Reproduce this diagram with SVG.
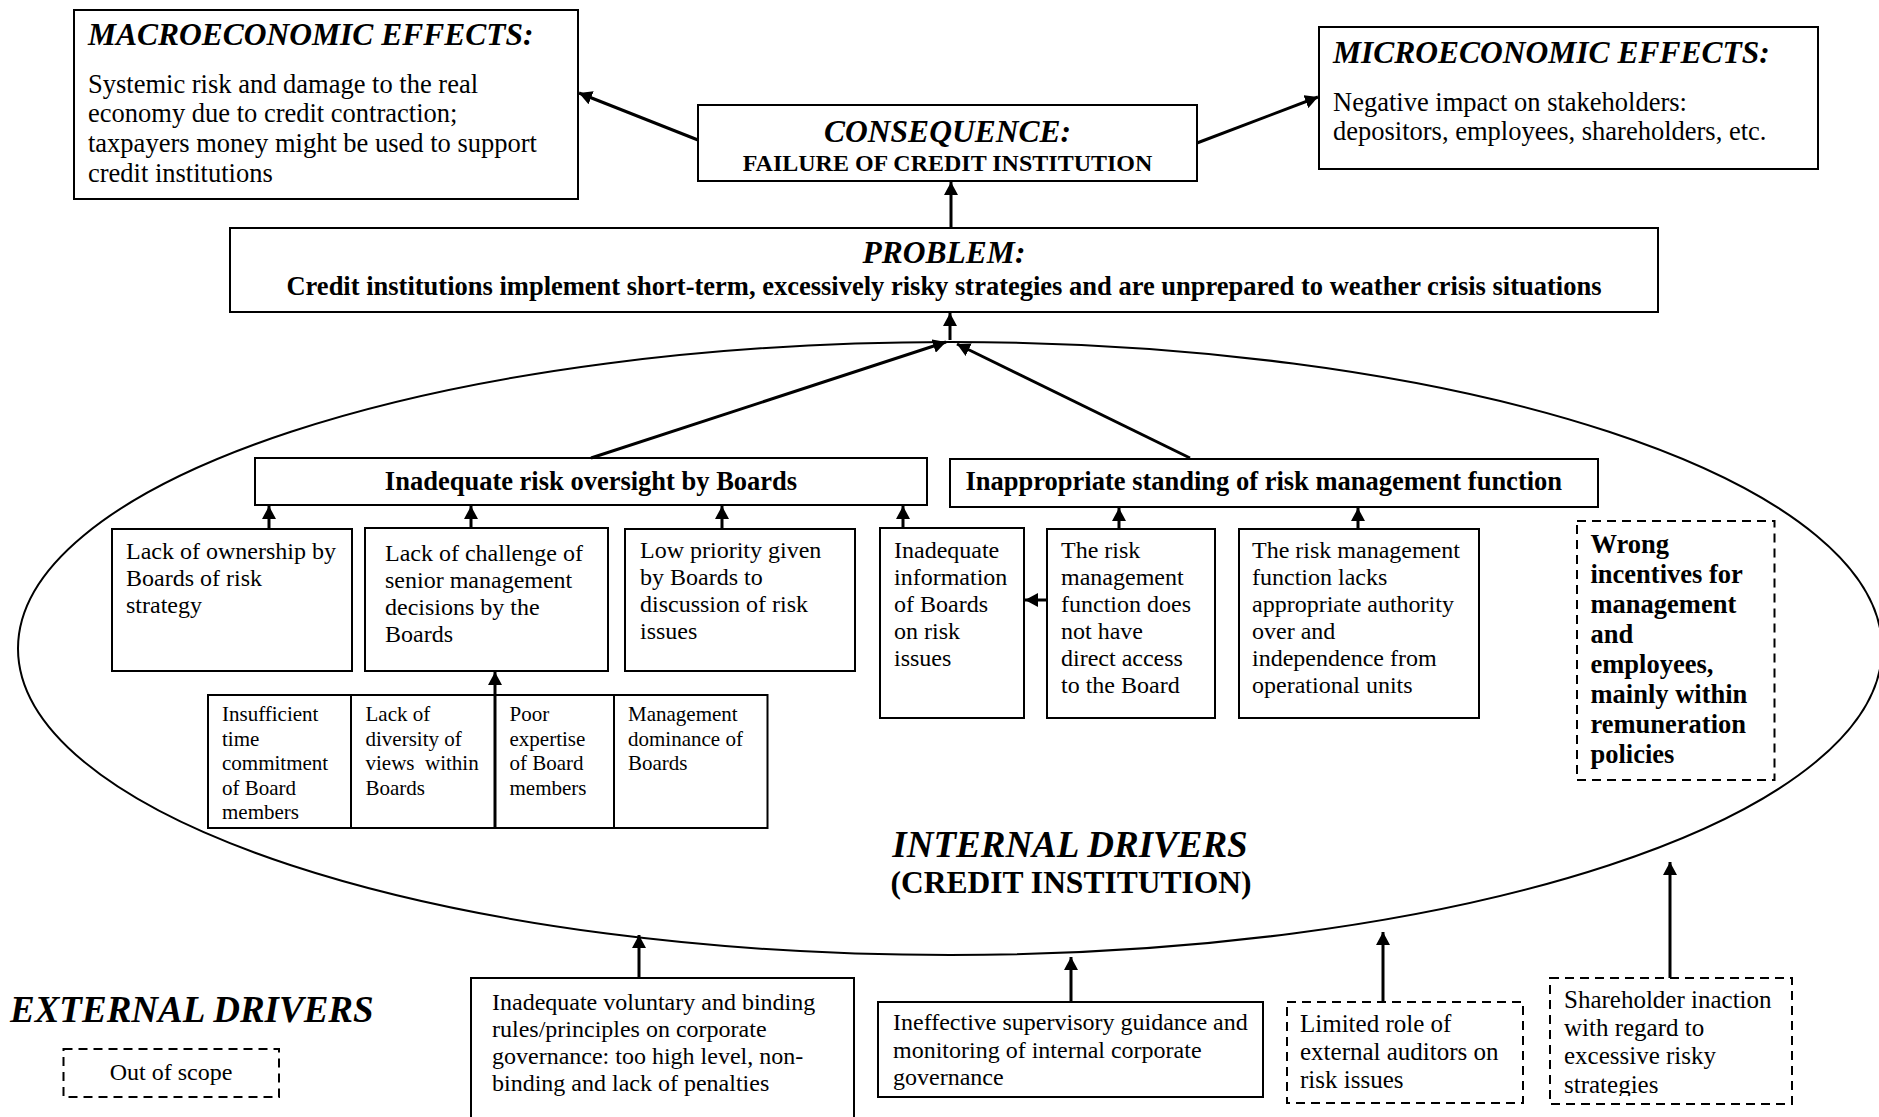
<svg xmlns="http://www.w3.org/2000/svg" width="1879" height="1117" viewBox="0 0 1879 1117">
<style>
text{font-family:"Liberation Serif","Times New Roman",serif;fill:#000}
.box{fill:#fff;stroke:#000;stroke-width:2}
.dash{fill:#fff;stroke:#000;stroke-width:2;stroke-dasharray:9,6}
.ti{font-weight:bold;font-style:italic;font-size:31.5px}
.big{font-weight:bold;font-style:italic;font-size:37px}
.b265{font-weight:bold;font-size:26.5px}
.r265{font-size:26.5px}
.r24{font-size:24px}
.r25{font-size:25px}
.r21{font-size:21px}
.mid{text-anchor:middle}
.arr{fill:none;stroke:#000;stroke-width:3;marker-end:url(#ah)}
</style>
<defs>
<marker id="ah" markerUnits="userSpaceOnUse" markerWidth="14" markerHeight="14" refX="13" refY="7" orient="auto">
<path d="M0,0 L13,7 L0,14 z" fill="#000"/>
</marker>
<clipPath id="shclip"><rect x="1550" y="978" width="242" height="118"/></clipPath>
</defs>
<rect width="1879" height="1117" fill="#fff"/>

<g id="internal-ellipse">
<ellipse cx="950" cy="648.5" rx="932" ry="306.5" fill="none" stroke="#000" stroke-width="2"/>
</g>

<g id="macro">
<rect class="box" x="74" y="10" width="504" height="189"/>
<text class="ti" x="88" y="45">MACROECONOMIC EFFECTS:</text>
<text class="r265" x="88" y="93">Systemic risk and damage to the real</text>
<text class="r265" x="88" y="122">economy due to credit contraction;</text>
<text class="r265" x="88" y="152">taxpayers money might be used to support</text>
<text class="r265" x="88" y="182">credit institutions</text>
</g>

<g id="micro">
<rect class="box" x="1319" y="27" width="499" height="142"/>
<text class="ti" x="1333" y="63">MICROECONOMIC EFFECTS:</text>
<text class="r265" x="1333" y="111">Negative impact on stakeholders:</text>
<text class="r265" x="1333" y="140">depositors, employees, shareholders, etc.</text>
</g>

<g id="consequence">
<rect class="box" x="698" y="105" width="499" height="76"/>
<text class="ti mid" x="947.5" y="142">CONSEQUENCE:</text>
<text class="mid" x="947.5" y="171" font-weight="bold" font-size="24">FAILURE OF CREDIT INSTITUTION</text>
</g>

<g id="problem">
<rect class="box" x="230" y="228" width="1428" height="84"/>
<text class="ti mid" x="944" y="263">PROBLEM:</text>
<text class="b265 mid" x="944" y="295">Credit institutions implement short-term, excessively risky strategies and are unprepared to weather crisis situations</text>
</g>

<g id="oversight">
<rect class="box" x="255" y="458" width="672" height="47"/>
<text class="b265 mid" x="591" y="490">Inadequate risk oversight by Boards</text>
</g>

<g id="standing">
<rect class="box" x="950" y="459" width="648" height="48"/>
<text class="b265" x="965.5" y="490">Inappropriate standing of risk management function</text>
</g>

<g id="ownership">
<rect class="box" x="112" y="529" width="240" height="142"/>
<text class="r24" x="126" y="559">Lack of ownership by</text>
<text class="r24" x="126" y="586">Boards of risk</text>
<text class="r24" x="126" y="613">strategy</text>
</g>

<g id="challenge">
<rect class="box" x="365" y="528" width="243" height="143"/>
<text class="r24" x="385" y="561">Lack of challenge of</text>
<text class="r24" x="385" y="588">senior management</text>
<text class="r24" x="385" y="615">decisions by the</text>
<text class="r24" x="385" y="642">Boards</text>
</g>

<g id="priority">
<rect class="box" x="625" y="529" width="230" height="142"/>
<text class="r24" x="640" y="558">Low priority given</text>
<text class="r24" x="640" y="585">by Boards to</text>
<text class="r24" x="640" y="612">discussion of risk</text>
<text class="r24" x="640" y="639">issues</text>
</g>

<g id="information">
<rect class="box" x="880" y="528" width="144" height="190"/>
<text class="r24" x="894" y="558">Inadequate</text>
<text class="r24" x="894" y="585">information</text>
<text class="r24" x="894" y="612">of Boards</text>
<text class="r24" x="894" y="639">on risk</text>
<text class="r24" x="894" y="666">issues</text>
</g>

<g id="access">
<rect class="box" x="1047" y="529" width="168" height="189"/>
<text class="r24" x="1061" y="558">The risk</text>
<text class="r24" x="1061" y="585">management</text>
<text class="r24" x="1061" y="612">function does</text>
<text class="r24" x="1061" y="639">not have</text>
<text class="r24" x="1061" y="666">direct access</text>
<text class="r24" x="1061" y="693">to the Board</text>
</g>

<g id="authority">
<rect class="box" x="1239" y="529" width="240" height="189"/>
<text class="r24" x="1252" y="558">The risk management</text>
<text class="r24" x="1252" y="585">function lacks</text>
<text class="r24" x="1252" y="612">appropriate authority</text>
<text class="r24" x="1252" y="639">over and</text>
<text class="r24" x="1252" y="666">independence from</text>
<text class="r24" x="1252" y="693">operational units</text>
</g>

<g id="incentives">
<rect class="dash" x="1577" y="521" width="197.5" height="259"/>
<text class="b265" x="1590.5" y="553">Wrong</text>
<text class="b265" x="1590.5" y="583">incentives for</text>
<text class="b265" x="1590.5" y="613">management</text>
<text class="b265" x="1590.5" y="643">and</text>
<text class="b265" x="1590.5" y="673">employees,</text>
<text class="b265" x="1590.5" y="703">mainly within</text>
<text class="b265" x="1590.5" y="733">remuneration</text>
<text class="b265" x="1590.5" y="763">policies</text>
</g>

<g id="time-commitment">
<rect class="box" x="208" y="695" width="143" height="133"/>
<text class="r21" x="222" y="721">Insufficient</text>
<text class="r21" x="222" y="745.5">time</text>
<text class="r21" x="222" y="770">commitment</text>
<text class="r21" x="222" y="794.5">of Board</text>
<text class="r21" x="222" y="819">members</text>
</g>

<g id="diversity">
<rect class="box" x="351" y="695" width="144" height="133"/>
<text class="r21" x="365.5" y="721">Lack of</text>
<text class="r21" x="365.5" y="745.5">diversity of</text>
<text class="r21" x="365.5" y="770">views&#160; within</text>
<text class="r21" x="365.5" y="794.5">Boards</text>
</g>

<g id="expertise">
<rect class="box" x="495" y="695" width="119" height="133"/>
<text class="r21" x="509.5" y="721">Poor</text>
<text class="r21" x="509.5" y="745.5">expertise</text>
<text class="r21" x="509.5" y="770">of Board</text>
<text class="r21" x="509.5" y="794.5">members</text>
</g>

<g id="dominance">
<rect class="box" x="614" y="695" width="153.5" height="133"/>
<text class="r21" x="628" y="721">Management</text>
<text class="r21" x="628" y="745.5">dominance of</text>
<text class="r21" x="628" y="770">Boards</text>
</g>

<g id="internal-label">
<text class="big mid" x="1070" y="857">INTERNAL DRIVERS</text>
<text class="mid" x="1071" y="893" font-weight="bold" font-size="31.5">(CREDIT INSTITUTION)</text>
</g>

<g id="external-label">
<text class="big" x="10" y="1022">EXTERNAL DRIVERS</text>
</g>

<g id="out-of-scope">
<rect class="dash" x="63.5" y="1049" width="215.5" height="48"/>
<text class="r24 mid" x="171" y="1080">Out of scope</text>
</g>

<g id="rules">
<rect class="box" x="471" y="978" width="383" height="160"/>
<text class="r24" x="492" y="1010">Inadequate voluntary and binding</text>
<text class="r24" x="492" y="1037">rules/principles on corporate</text>
<text class="r24" x="492" y="1064">governance: too high level, non-</text>
<text class="r24" x="492" y="1091">binding and lack of penalties</text>
</g>

<g id="supervisory">
<rect class="box" x="878" y="1002" width="385" height="95"/>
<text class="r24" x="893" y="1030">Ineffective supervisory guidance and</text>
<text class="r24" x="893" y="1057.5">monitoring of internal corporate</text>
<text class="r24" x="893" y="1085">governance</text>
</g>

<g id="auditors">
<rect class="dash" x="1287" y="1002" width="236" height="101"/>
<text class="r25" x="1300" y="1032">Limited role of</text>
<text class="r25" x="1300" y="1060">external auditors on</text>
<text class="r25" x="1300" y="1088">risk issues</text>
</g>

<g id="shareholders">
<rect class="dash" x="1550" y="978" width="242" height="126"/>
<g clip-path="url(#shclip)">
<text class="r25" x="1564" y="1008">Shareholder inaction</text>
<text class="r25" x="1564" y="1036">with regard to</text>
<text class="r25" x="1564" y="1064">excessive risky</text>
<text class="r25" x="1564" y="1093">strategies</text>
</g>
</g>

<g id="connectors">
<line class="arr" x1="698" y1="140" x2="579" y2="93"/>
<line class="arr" x1="1197" y1="143" x2="1318" y2="97"/>
<line class="arr" x1="951" y1="228" x2="951" y2="182"/>
<line class="arr" x1="950" y1="340" x2="950" y2="313"/>
<line class="arr" x1="591" y1="458" x2="946" y2="342"/>
<line class="arr" x1="1190" y1="458" x2="957" y2="344"/>
<line class="arr" x1="269" y1="529" x2="269" y2="506"/>
<line class="arr" x1="471" y1="528" x2="471" y2="506"/>
<line class="arr" x1="722" y1="529" x2="722" y2="506"/>
<line class="arr" x1="903" y1="528" x2="903" y2="506"/>
<line class="arr" x1="1119" y1="529" x2="1119" y2="508"/>
<line class="arr" x1="1358" y1="529" x2="1358" y2="508"/>
<line class="arr" x1="1047" y1="600" x2="1025" y2="600"/>
<line class="arr" x1="495" y1="828" x2="495" y2="672"/>
<line class="arr" x1="639" y1="978" x2="639" y2="935"/>
<line class="arr" x1="1071" y1="1002" x2="1071" y2="957"/>
<line class="arr" x1="1383" y1="1002" x2="1383" y2="932"/>
<line class="arr" x1="1670" y1="978" x2="1670" y2="862"/>
</g>
</svg>
